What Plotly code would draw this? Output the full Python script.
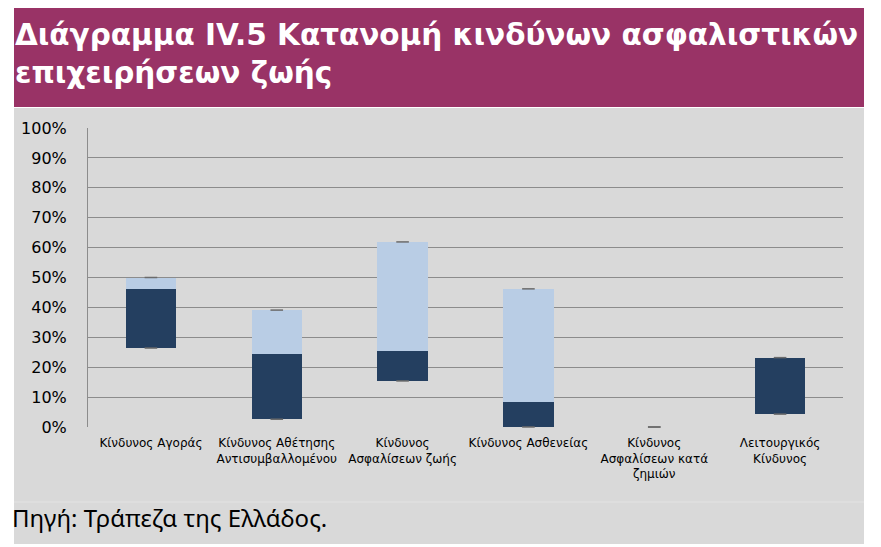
import plotly.graph_objects as go

# Data (share of total risk, %)
categories = [
    "Κίνδυνος Αγοράς",
    "Κίνδυνος Αθέτησης<br>Αντισυμβαλλομένου",
    "Κίνδυνος<br>Ασφαλίσεων ζωής",
    "Κίνδυνος Ασθενείας",
    "Κίνδυνος<br>Ασφαλίσεων κατά<br>ζημιών",
    "Λειτουργικός<br>Κίνδυνος",
]
min_vals = [26.4, 2.6, 15.4, 0.0, 0.0, 4.3]
median_vals = [46.0, 24.4, 25.4, 8.3, 0.0, 23.2]
max_vals = [50.0, 39.1, 61.9, 46.2, 0.0, 23.2]
y_ticks = [0, 10, 20, 30, 40, 50, 60, 70, 80, 90, 100]

# page has an 8px body margin, so work in page pixels and shift
OFF = 8
W, H = 881 - OFF, 547 - OFF
L, R, T, B = 88 - OFF, 843 - OFF, 128 - OFF, 427 - OFF  # plot area


def px(x):
    return (x - OFF - L) / (R - L)


def py(y):
    return (B - (y - OFF)) / (B - T)


dark_heights = [m - lo for m, lo in zip(median_vals, min_vals)]
light_heights = [hi - m for hi, m in zip(max_vals, median_vals)]

fig = go.Figure()
fig.add_trace(go.Bar(x=categories, y=min_vals, marker_color="rgba(0,0,0,0)",
                     marker_line_width=0, hoverinfo="skip", showlegend=False))
fig.add_trace(go.Bar(x=categories, y=dark_heights, marker_color="#243f60",
                     marker_line_width=0, showlegend=False))
fig.add_trace(go.Bar(x=categories, y=light_heights, marker_color="#b9cde5",
                     marker_line_width=0, showlegend=False))
# whisker ticks at min and max
fig.add_trace(go.Scatter(x=categories + categories, y=min_vals + max_vals, mode="markers",
                         marker=dict(symbol="line-ew", size=9,
                                     line=dict(color="#6b6b6b", width=1.5)),
                         showlegend=False, cliponaxis=False))

shapes = [
    dict(type="rect", xref="paper", yref="paper", layer="below",
         x0=px(14), x1=px(864), y0=py(108), y1=py(544),
         fillcolor="#d9d9d9", line_width=0),
    dict(type="rect", xref="paper", yref="paper", layer="below",
         x0=px(14), x1=px(864), y0=py(3), y1=py(107),
         fillcolor="#993366", line_width=0),
    dict(type="line", xref="paper", yref="paper", layer="below",
         x0=px(14), x1=px(864), y0=py(502), y1=py(502),
         line=dict(color="#e3e3e3", width=1)),
]

annotations = [
    dict(text="<b>Διάγραμμα IV.5 Κατανομή κινδύνων ασφαλιστικών</b><br><b>επιχειρήσεων ζωής</b>",
         xref="paper", yref="paper", x=px(13), y=py(16), xanchor="left", yanchor="top",
         align="left", showarrow=False,
         font=dict(family="DejaVu Sans", size=29.5, color="white")),
    dict(text="Πηγή: Τράπεζα της Ελλάδος.",
         xref="paper", yref="paper", x=px(10), y=py(517), xanchor="left", yanchor="middle",
         showarrow=False, font=dict(family="Noto Sans", size=24, color="black")),
]

fig.update_layout(
    width=W, height=H,
    margin=dict(l=L, r=W - R, t=T, b=H - B, pad=0),
    paper_bgcolor="white", plot_bgcolor="rgba(0,0,0,0)",
    barmode="stack", bargap=0.6,
    shapes=shapes, annotations=annotations,
    showlegend=False,
)
fig.update_xaxes(showgrid=False, showline=False, ticks="",
                 tickfont=dict(family="DejaVu Sans", size=12, color="black"),
                 ticklabelstandoff=7)
fig.update_yaxes(range=[0, 100], tickvals=y_ticks, ticktext=[f"{v}%" for v in y_ticks],
                 showgrid=True, gridcolor="#8c8c8c", gridwidth=1,
                 showline=True, linecolor="#8c8c8c", linewidth=1,
                 zeroline=False, ticks="",
                 tickfont=dict(family="DejaVu Sans", size=16, color="black"),
                 ticklabelstandoff=17)

fig.write_html("out.html")
